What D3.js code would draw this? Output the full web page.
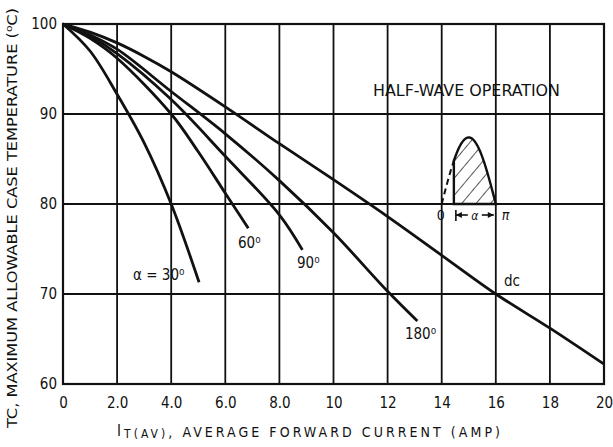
<!DOCTYPE html>
<html>
<head>
<meta charset="utf-8">
<script src="https://cdn.jsdelivr.net/npm/d3@7/dist/d3.min.js"></script>
<style>
  html, body { margin: 0; padding: 0; background: #fff; }
  svg { display: block; }
  text { font-family: "DejaVu Sans Condensed", "Liberation Sans Narrow", "Liberation Sans", sans-serif; fill: #111; }
</style>
</head>
<body>
<svg id="chart" width="613" height="447"></svg>
<script>
// ---------- data ----------
const currentTicks = [0, 2, 4, 6, 8, 10, 12, 14, 16, 18, 20];
const currentTickLabels = ["0", "2.0", "4.0", "6.0", "8.0", "10", "12", "14", "16", "18", "20"];
const tempTicks = [60, 70, 80, 90, 100];
const tempTickLabels = ["60", "70", "80", "90", "100"];

const seriesNames = ["α = 30⁰", "60⁰", "90⁰", "180⁰", "dc"];

const current30 = [0, 1, 2, 3, 4, 5.03];
const temp30    = [100, 97, 92.2, 86.8, 80, 71.3];

const current60 = [0, 1, 2, 4, 5, 6, 6.85];
const temp60    = [100, 98.4, 96.2, 90, 85.8, 81.2, 77.3];

const current90 = [0, 1, 2, 4, 6, 8, 8.85];
const temp90    = [100, 98.6, 96.7, 91.6, 85.3, 78.8, 74.9];

const current180 = [0, 1, 2, 4, 6, 8, 10, 12, 13.1];
const temp180    = [100, 98.8, 97.2, 92.5, 87.8, 82.6, 76.8, 70.3, 67];

const currentDC = [0, 1, 2, 3, 4, 6, 8, 10, 12, 14, 16, 18, 20];
const tempDC    = [100, 99.1, 97.9, 96.4, 94.7, 90.8, 86.7, 82.7, 78.6, 74.3, 70, 66.2, 62.2];

const seriesCurrents = [current30, current60, current90, current180, currentDC];
const seriesTemps = [temp30, temp60, temp90, temp180, tempDC];

// label anchors (data units)
const labelCurrent = [2.59, 6.47, 8.65, 12.64, 16.3];
const labelTemp    = [71.6, 75.1, 72.9, 65.0, 70.9];

// inset (half-wave sketch) in data units
const insetTitle = "HALF-WAVE OPERATION";
const waveStart = 14, waveEnd = 16, waveBase = 80, wavePeak = 87.4, conductionStart = 14.45;

const xTitleMain = "I", xTitleSub = "T(AV)", xTitleRest = ", AVERAGE FORWARD CURRENT (AMP)";
const yTitle = "TC, MAXIMUM ALLOWABLE CASE TEMPERATURE (⁰C)";

// ---------- drawing ----------
const svg = d3.select("#chart");
const x = d3.scaleLinear().domain([0, 20]).range([63, 604]);
const y = d3.scaleLinear().domain([60, 100]).range([384, 24]);
const ink = "#111";
const fontStack = '"DejaVu Sans Condensed", "Liberation Sans Narrow", "Liberation Sans", sans-serif';

// grid
const grid = svg.append("g").attr("stroke", ink).attr("stroke-width", 1.8);
grid.selectAll("line.v").data(currentTicks).join("line")
  .attr("x1", d => x(d)).attr("x2", d => x(d))
  .attr("y1", y(100)).attr("y2", y(60));
grid.selectAll("line.h").data(tempTicks).join("line")
  .attr("x1", x(0)).attr("x2", x(20))
  .attr("y1", d => y(d)).attr("y2", d => y(d));
svg.append("rect").attr("x", x(0)).attr("y", y(100))
  .attr("width", x(20) - x(0)).attr("height", y(60) - y(100))
  .attr("fill", "none").attr("stroke", ink).attr("stroke-width", 2.2);

// axes tick labels via d3 axes
const xAxis = d3.axisBottom(x).tickValues(currentTicks)
  .tickFormat((d, i) => currentTickLabels[i]).tickSize(0).tickPadding(13);
const gx = svg.append("g").attr("transform", `translate(0,${y(60)})`).call(xAxis);
gx.select(".domain").remove();
gx.selectAll("text").attr("font-size", 15).attr("fill", ink).style("font-family", fontStack);

const yAxis = d3.axisLeft(y).tickValues(tempTicks)
  .tickFormat((d, i) => tempTickLabels[i]).tickSize(0).tickPadding(6);
const gy = svg.append("g").attr("transform", `translate(${x(0)},0)`).call(yAxis);
gy.select(".domain").remove();
gy.selectAll("text").attr("font-size", 15).attr("fill", ink).style("font-family", fontStack);

// curves
const line = d3.line().x(d => x(d[0])).y(d => y(d[1])).curve(d3.curveCatmullRom.alpha(0.5));
seriesCurrents.forEach((cs, i) => {
  const pts = cs.map((c, j) => [c, seriesTemps[i][j]]);
  svg.append("path").attr("d", line(pts))
    .attr("fill", "none").attr("stroke", ink).attr("stroke-width", 2.8)
    .attr("stroke-linecap", "butt");
});

// curve labels
seriesNames.forEach((name, i) => {
  svg.append("text").attr("x", x(labelCurrent[i])).attr("y", y(labelTemp[i]))
    .attr("font-size", 15).text(name);
});

// inset title
svg.append("text").attr("x", x(11.46)).attr("y", y(92))
  .attr("font-size", 15).attr("textLength", 187).attr("lengthAdjust", "spacingAndGlyphs")
  .text(insetTitle);

// inset waveform
const amp = wavePeak - waveBase;
const sineT = c => waveBase + amp * Math.sin(Math.PI * (c - waveStart) / (waveEnd - waveStart));
const fine = d3.range(0, 41).map(k => k / 40);
const condPts = fine.map(f => { const c = conductionStart + f * (waveEnd - conductionStart); return [c, sineT(c)]; });
const dashPts = fine.map(f => { const c = waveStart + f * (conductionStart - waveStart); return [c, sineT(c)]; });
const linLine = d3.line().x(d => x(d[0])).y(d => y(d[1]));

const defs = svg.append("defs");
const pat = defs.append("pattern").attr("id", "hatch").attr("patternUnits", "userSpaceOnUse")
  .attr("width", 11).attr("height", 11).attr("patternTransform", "rotate(40)");
pat.append("line").attr("x1", 0).attr("y1", 0).attr("x2", 0).attr("y2", 11)
  .attr("stroke", ink).attr("stroke-width", 1.4);

const areaPts = [[conductionStart, waveBase], ...condPts, [waveEnd, waveBase]];
svg.append("path").attr("d", linLine(areaPts) + "Z")
  .attr("fill", "url(#hatch)").attr("stroke", ink).attr("stroke-width", 2.4);
svg.append("path").attr("d", linLine(dashPts))
  .attr("fill", "none").attr("stroke", ink).attr("stroke-width", 2)
  .attr("stroke-dasharray", "6,4");

// inset annotation: 0, |<- α ->|, π
const annY = y(waveBase) + 16;
svg.append("text").attr("x", x(waveStart) - 1).attr("y", annY).attr("text-anchor", "middle")
  .attr("font-size", 14).text("0");
const aL = x(conductionStart) + 2, aR = x(waveEnd) - 2, aMid = (aL + aR) / 2;
const ann = svg.append("g").attr("stroke", ink).attr("stroke-width", 1.6);
ann.append("line").attr("x1", aL).attr("x2", aL).attr("y1", annY - 10).attr("y2", annY + 1);
ann.append("line").attr("x1", aL).attr("x2", aMid - 7).attr("y1", annY - 5).attr("y2", annY - 5);
ann.append("line").attr("x1", aMid + 7).attr("x2", aR).attr("y1", annY - 5).attr("y2", annY - 5);
svg.append("path").attr("d", `M${aL},${annY - 5}l6,-3v6z`).attr("fill", ink);
svg.append("path").attr("d", `M${aR},${annY - 5}l-6,-3v6z`).attr("fill", ink);
svg.append("text").attr("x", aMid).attr("y", annY).attr("text-anchor", "middle")
  .attr("font-size", 12).attr("font-style", "italic").text("α");
svg.append("text").attr("x", x(waveEnd) + 6).attr("y", annY)
  .attr("font-size", 14).attr("font-style", "italic").text("π");

// axis titles
const xt = svg.append("text").attr("x", 117).attr("y", 437).attr("font-size", 14)
  .attr("textLength", 383).attr("lengthAdjust", "spacing");
xt.append("tspan").attr("font-size", 15).attr("dy", -1).text(xTitleMain);
xt.append("tspan").attr("font-size", 12).attr("dy", 2).text(xTitleSub);
xt.append("tspan").attr("font-size", 14).attr("dy", -1).text(xTitleRest);

svg.append("text").attr("transform", "translate(17,218) rotate(-90)")
  .attr("text-anchor", "middle").attr("font-size", 14)
  .attr("textLength", 420).attr("lengthAdjust", "spacingAndGlyphs")
  .text(yTitle);
</script>
</body>
</html>
